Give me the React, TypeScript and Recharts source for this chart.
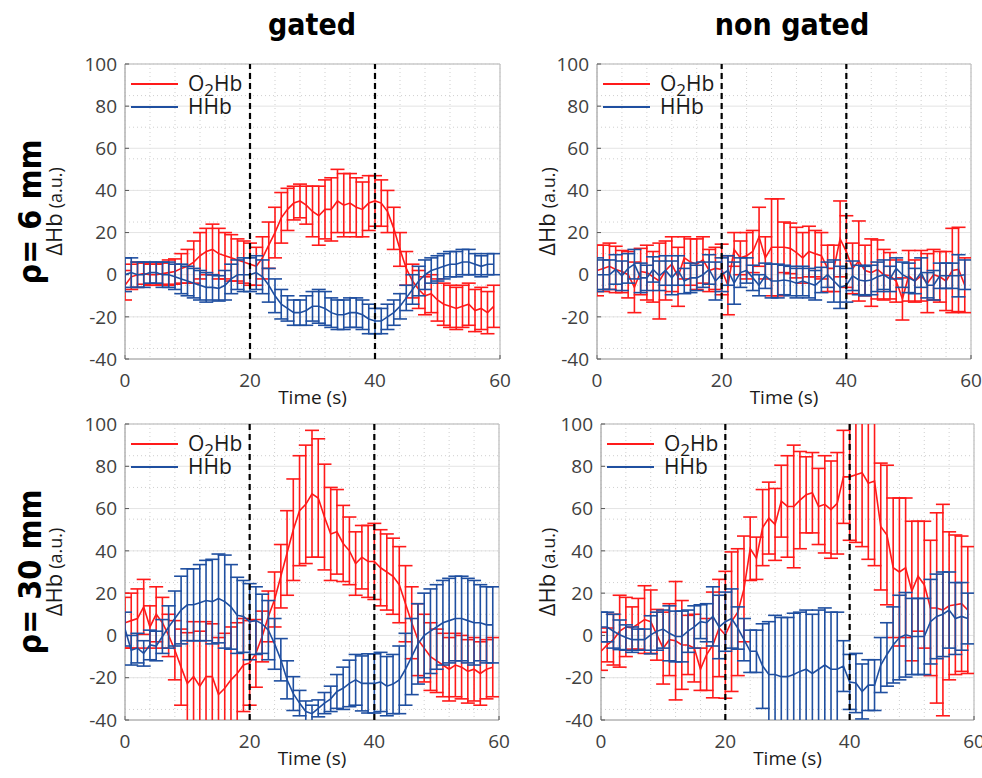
import React from 'react';
import { ComposedChart, Line, ErrorBar, XAxis, YAxis, CartesianGrid, ReferenceLine, Legend } from 'recharts';

const time = [0,1,2,3,4,5,6,7,8,9,10,11,12,13,14,15,16,17,18,19,20,21,22,23,24,25,26,27,28,29,30,31,32,33,34,35,36,37,38,39,40,41,42,43,44,45,46,47,48,49,50,51,52,53,54,55,56,57,58,59];

const xTicks = [0, 20, 40, 60];
const yTicks = [-40, -20, 0, 20, 40, 60, 80, 100];
const xMinor = [0,2,4,6,8,10,12,14,16,18,20,22,24,26,28,30,32,34,36,38,40,42,44,46,48,50,52,54,56,58,60];
const yMinor = [-40,-35,-30,-25,-20,-15,-10,-5,0,5,10,15,20,25,30,35,40,45,50,55,60,65,70,75,80,85,90,95,100];
const stimulusMarks = [20, 40];
const seriesOrder = ['O2Hb', 'HHb'];

// gated, rho = 6 mm
const gated6O2 = [-5,-1,0,0.5,0,0,0.5,1,1.5,3, 4,6,9,11,12,10,9,8,7,6, 5,4,8,14,20,27,31,34,35,33, 30,28,31,31,35,33,34,32,31,34, 35,34,30,22,12,3,-3,-7,-10,-9, -12,-14,-15,-16,-15,-14,-17,-16,-18,-15];
const gated6O2Err = [7,6,6,5,5,5,5,6,6,7, 8,10,11,11,12,12,11,11,10,10, 10,9,10,11,12,12,10,8,8,9, 12,14,14,15,15,15,14,14,13,13, 12,11,10,10,8,8,8,9,9,9, 10,10,10,10,10,10,10,10,10,10];
const gated6HHb = [0,1,0,0,1,1,0,0,-1,-2, -3,-4,-5,-6,-6,-6.5,-5,-2,0,0, 0,1,-1,-5,-10,-14,-16,-18,-18,-17, -15,-15,-16,-18,-19,-19,-18,-18,-19,-21, -22,-22,-20,-18,-15,-11,-7,-3,0,2, 3,4,5,5,6,6,5,4,5,5];
const gated6HHbErr = [8,7,6,6,5,5,6,6,6,7, 7,7,7,7,6,6,7,7,7,8, 8,8,8,8,8,7,6,6,6,7, 7,8,8,7,7,7,7,7,7,7, 6,6,6,6,6,6,7,7,7,6, 6,6,6,6,6,6,5,5,5,5];

// non gated, rho = 6 mm
const nongated6O2 = [2,3,4,2.5,1.5,0,-6,1.5,1,-1, -3,2,5,-1,8,6,5,7,2,3, 2.5,-5,12,8,9,11,18,8,13,13, 13,12.5,10.5,8,11,10,9,3,3,17, 11,3,6.5,2,1,2.5,0,-0.5,-3,-11.5, -0.5,-3,-0.5,-4,0,-1,-3,2,2.5,-5];
const nongated6O2Err = [12,11,11,11,10,11,12,11,13,12, 18,14,13,14,10,11,12,11,10,10, 12,14,8,8,11,10,14,10,23,23, 12,12,12,12,12,11,11,11,11,18, 17,12,19,12,16,14,12,11,10,10, 12,10,12,14,12,12,14,20,20,13];
const nongated6HHb = [0,0,0,2.5,-0.5,3,5,-1.5,-1.5,2.5, -0.5,2,-1.5,2,-3,-1.5,-1.5,0,2.5,-3, 0,2,-4,1,2,-1.5,-5,-0.5,-3,-3, -2.5,-3,-4,-3,-4,-5,-2.5,0,-3,-6, -5,-0.5,-2.5,-3,-2.5,-1,0,-2,3,0, -1.5,-3,1,-5,-5,-0.5,-0.5,-0.5,-0.5,0];
const nongated6HHbErr = [8,7,7,7,7,7,7,7,6,6, 7,7,8,7,6,7,6,6,7,9, 8,7,10,7,6,6,5,6,8,8, 7,7,7,7,7,7,6,6,10,10, 8,7,7,7,7,7,7,6,5,6, 7,6,7,6,7,6,6,6,10,7];

// gated, rho = 30 mm
const gated30O2 = [6,7,8,13.5,4,10,6,0,-7,-15, -22.7,-19.5,-24,-19.5,-19.5,-28,-25,-21,-18,-14, -13,-8.5,-0.5,9,17,28,39,50,59,62, 67,65,56,48,49,43.5,40,34,37,35, 35,32,30,28,24,15,6,-2,-6,-10, -12,-14,-16,-14,-15,-17,-16,-18,-16,-15];
const gated30O2Err = [12,13,14,13,10,13,12,10,14,18, 24,26,26,26,25,27,26,25,24,22, 20,16,12,12,13,15,20,24,26,28, 30,28,25,22,20,18,16,15,15,17, 18,18,18,18,18,18,17,17,16,16, 15,15,15,15,15,15,15,15,14,14];
const gated30HHb = [3,-7,-6,-8.5,-4.5,-5,-0.5,4,8,12, 14.5,14.5,15.5,16.5,16,17.5,16,13.5,9.5,9, 6.5,7,5.5,2.5,-4,-11.5,-21,-27.5,-32,-36, -37,-34.5,-32,-30,-26.5,-25,-22.7,-21,-22.7,-22.7, -22.7,-22,-24,-23,-21,-16,-10,-4,0,2, 4,6,7,8,8,7,6,6,5,5];
const gated30HHbErr = [8,7,7,6,7,7,8,10,13,16, 17,17,18,19,20,21,22,20,18,17, 18,16,14,14,12,10,9,8,6,5, 4,4,5,6,8,10,11,12,13,14, 14,14,14,14,16,17,18,19,20,20, 20,20,20,20,20,20,20,18,18,18];

// non gated, rho = 30 mm
const nongated30O2 = [-7.5,-4.5,-2,2,4,3.5,5.5,7.5,6.5,0.3, -6,-2,-2.5,-4.5,-4.5,-6,-16,-9,-4.5,3.5, 0.3,6.5,11,22,41,36.5,51,55.5,52.5,63.5, 61,61,64,66.5,67.5,61,62,59.5,62.5,75, 75,76,77,72,73,51.5,47.5,32,30,32, 21,28,24,13,13,12,14,14.5,15,12];
const nongated30O2Err = [9,8,12,17,14,10,12,16,15,12, 17,17,28,21,14,16,10,17,25,23, 30,33,30,25,15,10,18,17,17,17, 24,29,23,18,19,18,23,23,24,22, 30,32,35,36,40,30,33,33,35,33, 33,26,30,32,45,50,35,33,32,30];
const nongated30HHb = [4,4,2,0.3,-1,-2,-2,-2,0.3,2, 3,1,-0.5,-0.5,2,4,6.5,6,9,4, 6.5,8,3.5,-2,-7.5,-7.5,-14.5,-18.5,-18.5,-19.5, -19.5,-18.5,-17,-16,-18,-16,-14,-16,-16,-14.5, -22,-22.5,-26.5,-23.5,-23.5,-14,-9,-4.5,-1,0.3, -0.5,-0.5,-0.5,6.5,9,10,12,8,9,8];
const nongated30HHbErr = [7,7,8,7,6,6,5,5,9,9, 9,13,12,12,10,10,8,9,14,15, 14,14,10,10,10,10,20,25,28,28, 28,29,28,28,28,28,27,27,27,12, 13,14,13,12,12,13,15,18,20,20, 18,18,18,20,20,20,18,17,16,12];

const RED = '#ff1a1a';
const BLUE = '#1f4fa0';
const TICK_FONT = "'Open Sans', 'DejaVu Sans', sans-serif";
const TITLE_FONT = "'DejaVu Sans Condensed', 'DejaVu Sans', sans-serif";

type Row = { t: number; o2: number; o2e: number; hhb: number; hhbe: number };

function buildRows(o2: number[], o2e: number[], hhb: number[], hhbe: number[]): Row[] {
  return time.map((t, i) => ({ t, o2: o2[i], o2e: o2e[i], hhb: hhb[i], hhbe: hhbe[i] }));
}

const LegendBox = (props: any) => {
  const payload = [...(props.payload || [])].sort(
    (a: any, b: any) => seriesOrder.indexOf(a.value) - seriesOrder.indexOf(b.value)
  );
  return (
    <svg width={150} height={50} style={{ display: 'block', overflow: 'visible' }}>
      {payload.map((p: any, i: number) => {
        const cy = 12 + i * 23;
        return (
          <g key={p.value}>
            <line x1={0} y1={cy} x2={47} y2={cy} stroke={p.color} strokeWidth={2} />
            <text x={57} y={cy + 7} fontFamily={TICK_FONT} fontSize={21} fill="#1a1a1a">
              {p.value === 'O2Hb' ? (
                <>
                  O<tspan fontSize={17} dy={5}>2</tspan><tspan dy={-5}>Hb</tspan>
                </>
              ) : (
                p.value
              )}
            </text>
          </g>
        );
      })}
    </svg>
  );
};

type PanelProps = {
  plotLeft: number;
  plotTop: number;
  plotW: number;
  plotH: number;
  rows: Row[];
  yLabelX: number;
};

const AXIS_W = 110;
const MARGIN_TOP = 14;
const MARGIN_RIGHT = 12;
const XAXIS_H = 50;

function Panel({ plotLeft, plotTop, plotW, plotH, rows, yLabelX }: PanelProps) {
  const chartLeft = plotLeft - AXIS_W;
  const chartTop = plotTop - MARGIN_TOP;
  const width = AXIS_W + plotW + MARGIN_RIGHT;
  const height = MARGIN_TOP + plotH + XAXIS_H;
  const relLabelX = yLabelX - chartLeft;
  return (
    <div style={{ position: 'absolute', left: chartLeft, top: chartTop, width, height }}>
      {/* frame: grid, axes, tick labels, axis titles */}
      <ComposedChart width={width} height={height} data={rows} margin={{ top: MARGIN_TOP, right: MARGIN_RIGHT, left: 0, bottom: 0 }}>
        <CartesianGrid horizontalValues={yMinor} verticalValues={xMinor} stroke="#cfcfcf" strokeDasharray="1 3" />
        <CartesianGrid horizontalValues={yTicks} verticalValues={xTicks} stroke="#e4e4e4" />
        <XAxis
          dataKey="t"
          type="number"
          domain={[0, 60]}
          ticks={xTicks}
          height={XAXIS_H}
          tickSize={-4}
          tickMargin={19}
          tickLine={{ stroke: '#555' }}
          axisLine={{ stroke: '#9a9a9a' }}
          tick={{ fontFamily: TICK_FONT, fontSize: 19, fill: '#404040' }}
          label={{
            content: (p: any) => {
              const vb = p.viewBox || {};
              return (
                <text x={vb.x + vb.width / 2} y={vb.y + 45} textAnchor="middle" fontFamily={TICK_FONT} fontSize={19} fill="#1a1a1a">
                  Time (s)
                </text>
              );
            },
          }}
        />
        <YAxis
          type="number"
          domain={[-40, 100]}
          ticks={yTicks}
          allowDataOverflow
          width={AXIS_W}
          tickSize={-4}
          tickMargin={12}
          tickLine={{ stroke: '#555' }}
          axisLine={{ stroke: '#9a9a9a' }}
          tick={{ fontFamily: TICK_FONT, fontSize: 19, fill: '#404040' }}
          label={{
            content: (p: any) => {
              const vb = p.viewBox || {};
              const cy = vb.y + vb.height / 2;
              const bx = relLabelX + 7;
              return (
                <text x={bx} y={cy} transform={`rotate(-90 ${bx} ${cy})`} textAnchor="middle" fontFamily={TICK_FONT} fill="#1a1a1a">
                  <tspan fontSize={22}>ΔHb</tspan>
                  <tspan fontSize={18} dx={5}>(a.u.)</tspan>
                </text>
              );
            },
          }}
        />
        <ReferenceLine y={100} stroke="#bdbdbd" />
        <ReferenceLine x={60} stroke="#bdbdbd" />
      </ComposedChart>
      {/* data layer, clipped to the plot area */}
      <div style={{ position: 'absolute', left: AXIS_W, top: MARGIN_TOP, width: plotW, height: plotH, overflow: 'hidden' }}>
        <ComposedChart width={plotW} height={plotH} data={rows} margin={{ top: 0, right: 0, left: 0, bottom: 0 }}>
          <XAxis dataKey="t" type="number" domain={[0, 60]} hide />
          <YAxis type="number" domain={[-40, 100]} allowDataOverflow hide />
          <Line dataKey="o2" name="O2Hb" stroke={RED} strokeWidth={1.6} dot={false} isAnimationActive={false}>
            <ErrorBar dataKey="o2e" width={7} stroke={RED} strokeWidth={1.6} direction="y" />
          </Line>
          <Line dataKey="hhb" name="HHb" stroke={BLUE} strokeWidth={1.6} dot={false} isAnimationActive={false}>
            <ErrorBar dataKey="hhbe" width={7} stroke={BLUE} strokeWidth={1.6} direction="y" />
          </Line>
          {stimulusMarks.map((m) => (
            <ReferenceLine key={m} x={m} stroke="#000" strokeWidth={2.2} strokeDasharray="6 4" />
          ))}
          <Legend
            layout="vertical"
            align="center"
            verticalAlign="middle"
            content={<LegendBox />}
            wrapperStyle={{ left: 6, top: 8, width: 150, height: 50 }}
          />
        </ComposedChart>
      </div>
    </div>
  );
}

const titleStyle: React.CSSProperties = {
  position: 'absolute',
  fontFamily: TITLE_FONT,
  fontWeight: 'bold',
  fontStretch: 'condensed',
  fontSize: 30,
  color: '#000',
  transform: 'translate(-50%, -50%)',
  whiteSpace: 'nowrap',
};

const rowLabelStyle: React.CSSProperties = {
  ...titleStyle,
  fontSize: 32,
  transform: 'translate(-50%, -50%) rotate(-90deg)',
};

export default function App() {
  return (
    <div style={{ position: 'absolute', left: 0, top: 0, width: 982, height: 778, background: '#fff', overflow: 'hidden' }}>
      <div style={{ ...titleStyle, left: 312, top: 24 }}>gated</div>
      <div style={{ ...titleStyle, left: 792, top: 24 }}>non gated</div>
      <div style={{ ...rowLabelStyle, left: 30, top: 212 }}>ρ= 6 mm</div>
      <div style={{ ...rowLabelStyle, left: 30, top: 572 }}>ρ= 30 mm</div>
      <Panel plotLeft={125} plotTop={64} plotW={375} plotH={295} rows={buildRows(gated6O2, gated6O2Err, gated6HHb, gated6HHbErr)} yLabelX={55} />
      <Panel plotLeft={597} plotTop={64} plotW={374} plotH={295} rows={buildRows(nongated6O2, nongated6O2Err, nongated6HHb, nongated6HHbErr)} yLabelX={548} />
      <Panel plotLeft={125} plotTop={424} plotW={374} plotH={296} rows={buildRows(gated30O2, gated30O2Err, gated30HHb, gated30HHbErr)} yLabelX={55} />
      <Panel plotLeft={601} plotTop={424} plotW={373} plotH={296} rows={buildRows(nongated30O2, nongated30O2Err, nongated30HHb, nongated30HHbErr)} yLabelX={548} />
    </div>
  );
}
